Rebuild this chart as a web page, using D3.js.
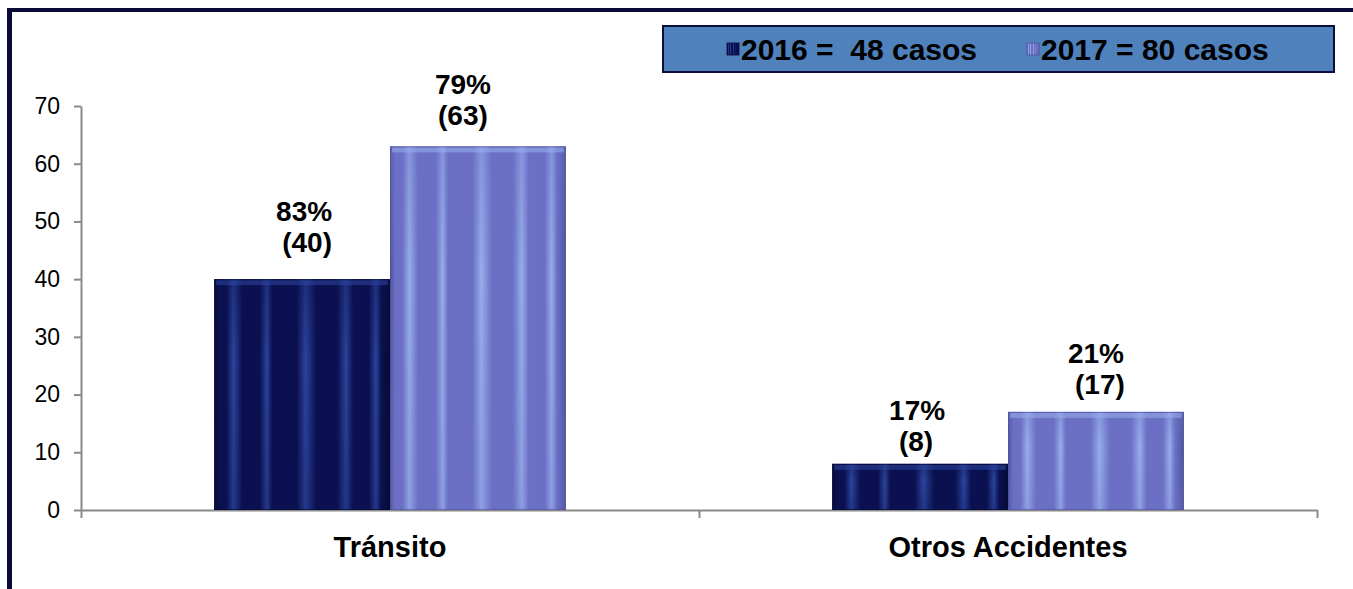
<!DOCTYPE html>
<html>
<head>
<meta charset="utf-8">
<script src="https://cdn.jsdelivr.net/npm/d3@7"></script>
<style>
  html, body { margin: 0; padding: 0; background: #ffffff; }
  svg { display: block; font-family: Arial, "Liberation Sans", sans-serif; }
</style>
</head>
<body>
<svg id="chart" width="1353" height="589"></svg>
<script>
// ---- data ----
const categories = ["Tránsito", "Otros Accidentes"];
const series = ["2016", "2017"];
const values2016 = [40, 8];
const values2017 = [63, 17];
const pct2016 = ["83%", "17%"];
const pct2017 = ["79%", "21%"];
const legendLabels = ["2016 =  48 casos", "2017 = 80 casos"];
const yTickValues = [0, 10, 20, 30, 40, 50, 60, 70];

// ---- layout / style (not data) ----
const W = 1353, H = 589;
const plot = { left: 81, right: 1317, top: 106, bottom: 510 };
const colors = {
  "2016": { base: "#0b1150", streak: "#2f4aa6", dark: "#050a30" },
  "2017": { base: "#6b70c4", streak: "#9cb4f0", dark: "#4c4f9a" }
};
// label nudges per [category][series]: [dxPct, dxCount, baselineOffsetFromTop]
const labelNudge = [
  [[2, 5, -27], [-15, -15, -21]],
  [[-3, -4, -13], [0, 4, -18]]
];

const svg = d3.select("#chart");
const defs = svg.append("defs");

// satin-like gradients (soft irregular vertical sheen)
series.forEach(s => {
  const c = colors[s];
  const g = defs.append("linearGradient").attr("id", "grad" + s)
    .attr("x1", "0").attr("y1", "0").attr("x2", "1").attr("y2", "0");
  const stops = [
    [0, c.dark], [0.03, c.base], [0.07, c.base], [0.11, c.streak], [0.16, c.base],
    [0.26, c.base], [0.3, c.streak], [0.33, c.base], [0.47, c.base], [0.52, c.streak],
    [0.58, c.base], [0.7, c.base], [0.75, c.streak], [0.79, c.base], [0.88, c.base],
    [0.92, c.streak], [0.95, c.base], [1, c.dark]
  ];
  stops.forEach(([o, col]) => g.append("stop").attr("offset", o).attr("stop-color", col)
    .attr("stop-opacity", 1));
  const v = defs.append("linearGradient").attr("id", "shade" + s)
    .attr("x1", "0").attr("y1", "0").attr("x2", "0").attr("y2", "1");
  v.append("stop").attr("offset", 0).attr("stop-color", c.base).attr("stop-opacity", 0.45);
  v.append("stop").attr("offset", 0.35).attr("stop-color", c.base).attr("stop-opacity", 0.1);
  v.append("stop").attr("offset", 1).attr("stop-color", c.base).attr("stop-opacity", 0.3);
});

// frame
svg.append("rect").attr("x", 7).attr("y", 8).attr("width", 5).attr("height", H - 8).attr("fill", "#0a0b38");
svg.append("rect").attr("x", 7).attr("y", 8).attr("width", W - 7).attr("height", 4).attr("fill", "#0a0b38");

// scales
const y = d3.scaleLinear().domain([0, 70]).range([plot.bottom, plot.top]);
const x0 = d3.scaleBand().domain(categories).range([plot.left, plot.right]).padding(0);
const bw = x0.bandwidth();
const x1 = d3.scaleBand().domain(series).range([0.2155 * bw, 0.7845 * bw]).padding(0);

// y axis
const yAxis = svg.append("g").attr("transform", `translate(${plot.left},0)`)
  .call(d3.axisLeft(y).tickValues(yTickValues).tickSize(7).tickSizeOuter(0).tickPadding(14).tickFormat(d3.format("d")));
yAxis.select(".domain").attr("stroke", "#8a8a8a").attr("stroke-width", 2);
yAxis.selectAll(".tick line").attr("stroke", "#8a8a8a").attr("stroke-width", 2);
yAxis.selectAll(".tick text").attr("font-size", 23).attr("fill", "#000").attr("font-family", "Arial, 'Liberation Sans', sans-serif");

// x axis
const xBounds = categories.map(c => x0(c)).concat([x0(categories[categories.length - 1]) + bw]);
const xAxis = svg.append("g").attr("transform", `translate(0,${plot.bottom})`)
  .call(d3.axisBottom(d3.scaleLinear().domain([plot.left, plot.right]).range([plot.left, plot.right]))
    .tickValues(xBounds).tickSize(8).tickSizeOuter(0).tickFormat(""));
xAxis.select(".domain").attr("stroke", "#8a8a8a").attr("stroke-width", 2);
xAxis.selectAll(".tick line").attr("stroke", "#8a8a8a").attr("stroke-width", 2);

svg.append("g").selectAll("text").data(categories).join("text")
  .attr("x", d => x0(d) + bw / 2).attr("y", 557)
  .attr("text-anchor", "middle").attr("font-size", 29).attr("font-weight", "bold")
  .attr("fill", "#000").text(d => d);

// bars
const rows = categories.map((c, i) => ({
  cat: c, i,
  bars: [
    { s: "2016", v: values2016[i], pct: pct2016[i], j: 0 },
    { s: "2017", v: values2017[i], pct: pct2017[i], j: 1 }
  ]
}));

const groups = svg.append("g").selectAll("g").data(rows).join("g")
  .attr("transform", d => `translate(${x0(d.cat)},0)`);

const bar = groups.selectAll("g.bar").data(d => d.bars.map(b => ({ ...b, i: d.i }))).join("g").attr("class", "bar");

bar.append("rect")
  .attr("x", d => x1(d.s)).attr("y", d => y(d.v))
  .attr("width", x1.bandwidth()).attr("height", d => y(0) - y(d.v))
  .attr("fill", d => `url(#grad${d.s})`);
bar.append("rect")
  .attr("x", d => x1(d.s)).attr("y", d => y(d.v))
  .attr("width", x1.bandwidth()).attr("height", d => y(0) - y(d.v))
  .attr("fill", d => `url(#shade${d.s})`);
// bevel top highlight
bar.append("rect")
  .attr("x", d => x1(d.s) + 2).attr("y", d => y(d.v) + 1)
  .attr("width", x1.bandwidth() - 4).attr("height", 5)
  .attr("fill", d => colors[d.s].streak).attr("opacity", 0.5);
bar.append("rect")
  .attr("x", d => x1(d.s) + 0.5).attr("y", d => y(d.v) + 0.5)
  .attr("width", x1.bandwidth() - 1).attr("height", d => y(0) - y(d.v) - 1)
  .attr("fill", "none").attr("stroke", d => colors[d.s].dark).attr("stroke-opacity", 0.6).attr("stroke-width", 1);

// labels
bar.append("text")
  .attr("x", d => x1(d.s) + x1.bandwidth() / 2 + labelNudge[d.i][d.j][0])
  .attr("y", d => y(d.v) + labelNudge[d.i][d.j][2] - 31)
  .attr("text-anchor", "middle").attr("font-size", 28).attr("font-weight", "bold").attr("fill", "#000")
  .text(d => d.pct);
bar.append("text")
  .attr("x", d => x1(d.s) + x1.bandwidth() / 2 + labelNudge[d.i][d.j][1])
  .attr("y", d => y(d.v) + labelNudge[d.i][d.j][2])
  .attr("text-anchor", "middle").attr("font-size", 28).attr("font-weight", "bold").attr("fill", "#000")
  .text(d => `(${d.v})`);

// legend
const lg = svg.append("g");
lg.append("rect").attr("x", 663).attr("y", 26).attr("width", 671).attr("height", 46)
  .attr("fill", "#4f81bd").attr("stroke", "#0b0d3a").attr("stroke-width", 2);
const legendX = [727, 1027];
series.forEach((s, k) => {
  lg.append("rect").attr("x", legendX[k]).attr("y", 43).attr("width", 12).attr("height", 12)
    .attr("fill", `url(#grad${s})`).attr("stroke", colors[s].dark).attr("stroke-width", 0.8);
  lg.append("text").attr("x", legendX[k] + 14).attr("y", 60)
    .attr("font-size", 30).attr("font-weight", "bold").attr("fill", "#000")
    .style("white-space", "pre").text(legendLabels[k]);
});
</script>
</body>
</html>
